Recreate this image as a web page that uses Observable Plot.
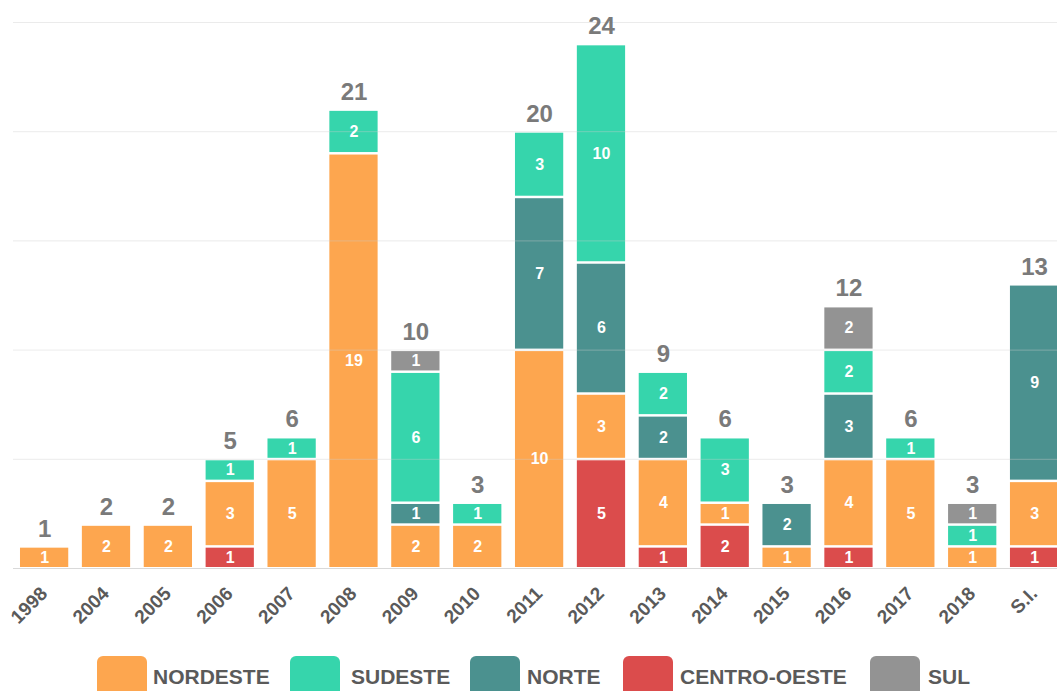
<!DOCTYPE html>
<html>
<head>
<meta charset="utf-8">
<script src="https://cdn.jsdelivr.net/npm/d3@7"></script>
<script src="https://cdn.jsdelivr.net/npm/@observablehq/plot@0.6"></script>
<style>
  html, body { margin: 0; padding: 0; background: #fff; overflow: hidden; }
  #chart { width: 1057px; }
  #legend { position: relative; width: 1057px; height: 46px; font-family: "Liberation Sans", Arial, sans-serif; }
  .sw { position: absolute; top: 11px; width: 50px; height: 40px; border-radius: 6px; }
  .lb { position: absolute; top: 20px; line-height: 24px; font-size: 21px; font-weight: bold; color: #5a5a5a; white-space: nowrap; }
</style>
</head>
<body>
<div id="chart"></div>
<div id="legend"></div>
<script>
// Categories
const years = ["1998","2004","2005","2006","2007","2008","2009","2010","2011","2012","2013","2014","2015","2016","2017","2018","S.I."];

// Series values (one array per region)
const centroOeste = [0,0,0,1,0,0,0,0,0,5,1,2,0,1,0,0,1];
const nordeste    = [1,2,2,3,5,19,2,2,10,3,4,1,1,4,5,1,3];
const norte       = [0,0,0,0,0,0,1,0,7,6,2,0,2,3,0,0,9];
const sudeste     = [0,0,0,1,1,2,6,1,3,10,2,3,0,2,1,1,0];
const sul         = [0,0,0,0,0,0,1,0,0,0,0,0,0,2,0,1,0];

// Regions: stack order (bottom to top) and legend order
const stackOrder = ["CENTRO-OESTE","NORDESTE","NORTE","SUDESTE","SUL"];
const legendOrder = ["NORDESTE","SUDESTE","NORTE","CENTRO-OESTE","SUL"];
const regionColors = ["#FDA64F","#36D5AC","#4B918F","#DB4C4C","#939393"]; // in legendOrder

const seriesByRegion = {
  "CENTRO-OESTE": centroOeste,
  "NORDESTE": nordeste,
  "NORTE": norte,
  "SUDESTE": sudeste,
  "SUL": sul
};

const rows = [];
for (const region of stackOrder) {
  seriesByRegion[region].forEach((v, i) => {
    if (v > 0) rows.push({year: years[i], region, value: v});
  });
}
const totals = years.map((y, i) => stackOrder.reduce((s, r) => s + seriesByRegion[r][i], 0));

const font = "Liberation Sans, Arial, sans-serif";

const chart = Plot.plot({
  width: 1057,
  height: 645,
  marginTop: 22,
  marginBottom: 77,
  marginLeft: 13,
  marginRight: 0,
  style: {fontFamily: font, background: "#fff"},
  x: {type: "band", domain: years, range: [13, 1065.2], paddingInner: 0.22, paddingOuter: 0.113, round: false, axis: null},
  y: {domain: [0, 25], axis: null},
  color: {domain: legendOrder, range: regionColors},
  marks: [
    Plot.barY(rows, Plot.stackY({
      x: "year", y: "value", z: "region", fill: "region",
      order: stackOrder, insetTop: 1.5, insetBottom: 1
    })),
    Plot.ruleY([5, 10, 15, 20, 25], {stroke: "#cccccc", strokeOpacity: 0.4, strokeWidth: 1}),
    Plot.ruleY([0], {stroke: "#d9d9d9", strokeWidth: 1.2}),
    Plot.text(rows, Plot.stackY({
      x: "year", y: "value", z: "region", text: "value",
      order: stackOrder, fill: "white", fontSize: 16, fontWeight: "bold", fontFamily: font
    })),
    Plot.text(totals, {
      x: (d, i) => years[i], y: d => d, text: d => String(d),
      lineAnchor: "bottom", dy: -10, fill: "#7a7a7a", fontSize: 24, fontWeight: "bold", fontFamily: font
    }),
    Plot.text(years, {
      x: d => d, y: d => 0, text: d => d,
      rotate: -45, textAnchor: "end", lineAnchor: "middle",
      dy: 22, dx: -0.5, fill: "#5a5a5a", fontSize: 19, fontWeight: "bold", fontFamily: font
    })
  ]
});
document.getElementById("chart").appendChild(chart);

// Legend
const swatchLeft = [97, 290, 470, 623, 870];
const labelLeft = [153, 351, 527, 680, 928];
const legend = document.getElementById("legend");
legendOrder.forEach((name, i) => {
  const sw = document.createElement("div");
  sw.className = "sw";
  sw.style.left = swatchLeft[i] + "px";
  sw.style.background = regionColors[i];
  legend.appendChild(sw);
  const lb = document.createElement("div");
  lb.className = "lb";
  lb.style.left = labelLeft[i] + "px";
  lb.textContent = name;
  legend.appendChild(lb);
});
</script>
</body>
</html>
